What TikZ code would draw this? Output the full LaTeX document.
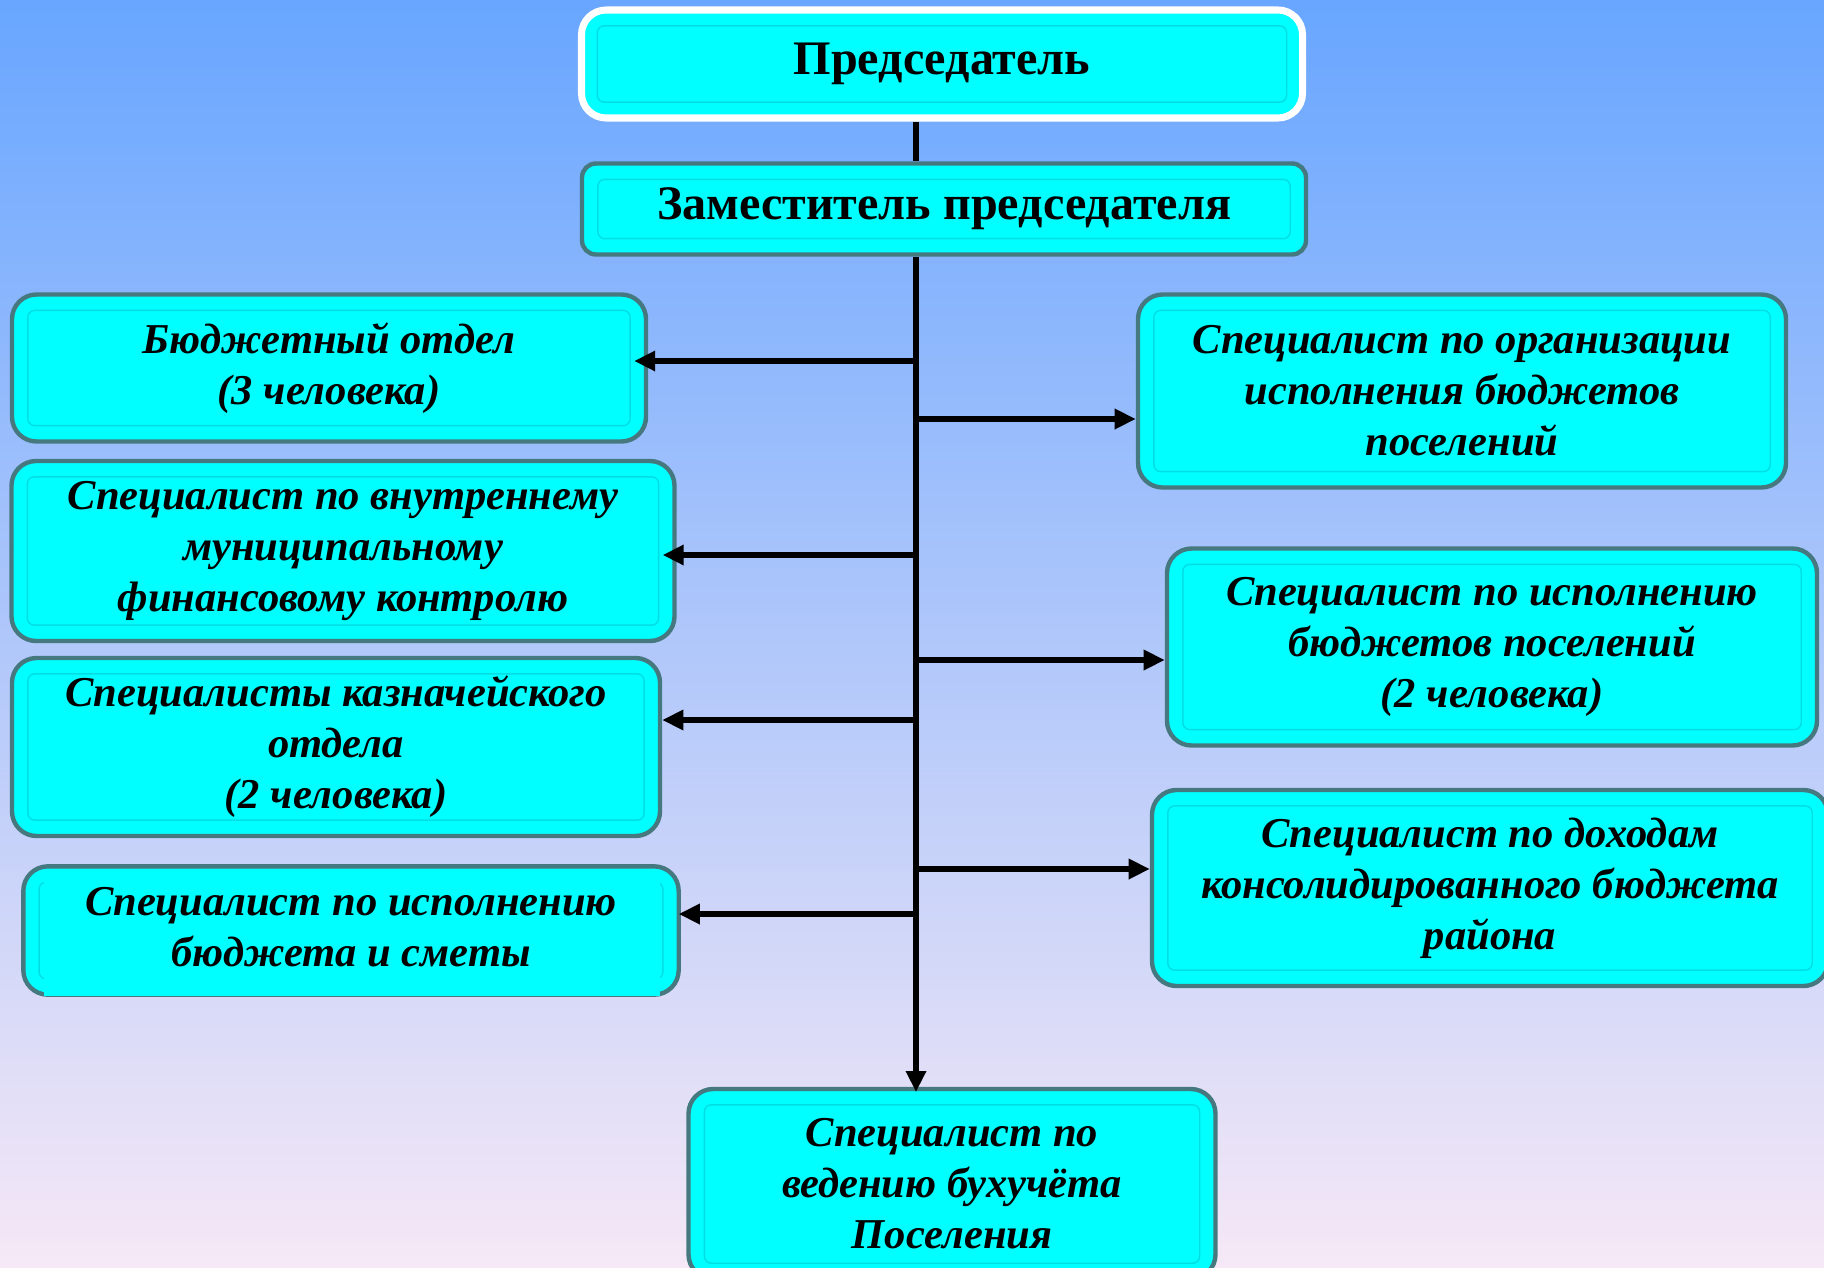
\documentclass[tikz,border=0pt]{standalone}
\usepackage{fontspec}
\setmainfont{Liberation Serif}
\usetikzlibrary{arrows.meta,backgrounds}

\definecolor{bgtop}{RGB}{104,166,255}
\definecolor{bgmid}{RGB}{170,202,242}
\definecolor{bgbot}{RGB}{246,232,246}
\definecolor{boxfill}{RGB}{0,255,255}
\definecolor{boxedge}{RGB}{70,120,128}
\definecolor{boxline}{RGB}{0,222,228}

\tikzset{
  wh/.style 2 args={minimum width=#1*0.02cm, minimum height=#2*0.02cm},
  unit/.style={rounded corners=14pt, fill=boxfill, draw=boxedge, line width=2.5pt,
    align=center, inner sep=0pt, font=\bfseries\itshape\fontsize{24.2}{29}\selectfont,
    path picture={\draw[boxline, line width=0.8pt, rounded corners=4pt]
      ([shift={(9pt,-9pt)}]path picture bounding box.north west) rectangle
      ([shift={(-9pt,9pt)}]path picture bounding box.south east);}},
  head/.style={unit, font=\bfseries\fontsize{27.4}{32}\selectfont},
  link/.style={line width=3.4pt},
  arr/.style={link, -{Triangle[length=12pt,width=11pt]}},
}

\begin{document}
\begin{tikzpicture}[x=0.02cm, y=-0.02cm]
  \useasboundingbox (0,0) rectangle (1824,1267);
  \begin{scope}[on background layer]
    \shade[top color=bgtop, middle color=bgmid, bottom color=bgbot] (0,0) rectangle (1824,1267);
  \end{scope}

  % top
  \node[head, wh={721}{108}, draw=white, line width=4pt] (chair) at (942,64) {Председатель};
  \node[head, wh={724}{91}, rounded corners=8pt] (deputy) at (944,209) {Заместитель председателя};

  % left column
  \node[unit, wh={634}{147}] (budget) at (329,368) {Бюджетный отдел\\(3 человека)};
  \node[unit, wh={663}{180}] (control) at (343,551) {Специалист по внутреннему\\муниципальному\\финансовому контролю};
  \node[unit, wh={648}{178}] (treasury) at (336,747) {Специалисты казначейского\\отдела\\(2 человека)};
  \node[unit, wh={651}{124}, draw=none, fill=none, path picture={}] (estimate) at (351,927) {Специалист по исполнению\\бюджета и сметы};
  \begin{scope}[on background layer]
    \draw[unit] ([yshift=-2pt]estimate.south west) rectangle ([yshift=-2pt]estimate.north east);
    \fill[boxfill] (44,872) rectangle (660,996);
  \end{scope}

  % right column
  \node[unit, wh={648}{193}] (organize) at (1462,391) {Специалист по организации\\исполнения бюджетов\\поселений};
  \node[unit, wh={650}{197}] (settle) at (1492,647) {Специалист по исполнению\\бюджетов поселений\\(2 человека)};
  \node[unit, wh={676}{196}] (income) at (1490,888) {Специалист по доходам\\консолидированного бюджета\\района};

  % bottom
  \node[unit, wh={527}{190}] (account) at (952,1184) {Специалист по\\ведению бухучёта\\Поселения};

  % spine
  \coordinate (spine) at (916,0);
  \draw[link] (chair.south -| spine) -- (deputy.north -| spine);
  \draw[arr] (deputy.south -| spine) -- ([yshift=-3pt]account.north -| spine);

  \foreach \n/\y/\a/\d in {budget/361/east/-8pt, control/555/east/-8pt, treasury/720/east/0pt,
                           estimate/914/east/0pt, organize/419/west/0pt, settle/660/west/0pt,
                           income/869/west/0pt}{
    \coordinate (s) at (916,\y);
    \draw[arr, shorten >=\d] (s) -- (s -| \n.\a);
  }
\end{tikzpicture}
\end{document}
